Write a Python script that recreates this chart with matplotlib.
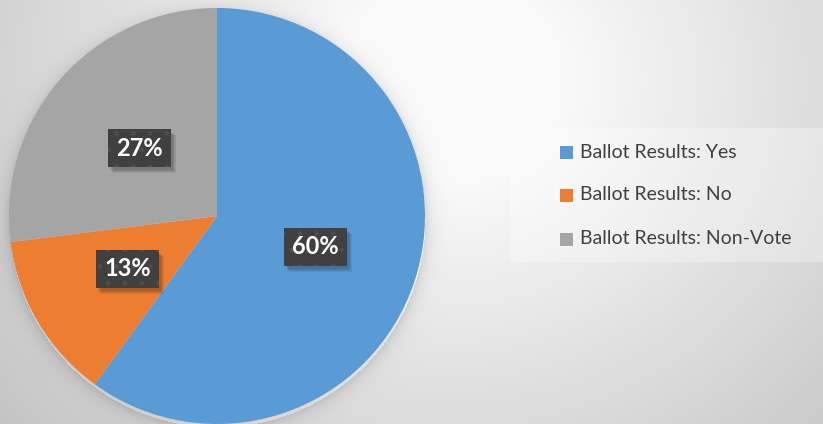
import matplotlib.pyplot as plt
from matplotlib.patches import Rectangle
import numpy as np

# data
categories = ['Ballot Results: Yes', 'Ballot Results: No', 'Ballot Results: Non-Vote']
shares = [60, 13, 27]
colors = ['#5B9BD5', '#ED7D31', '#A5A5A5']
label_pos = [(315.5, 247), (128, 269), (139.5, 148)]  # pixel centres (from top)

W, H = 823, 424
cx, cy, r = 217, 216, 208

fig = plt.figure(figsize=(W / 100, H / 100), dpi=100)
ax = fig.add_axes([0, 0, 1, 1])

# background: radial grey gradient + soft shadow under the pie
yy, xx = np.mgrid[0:H, 0:W]
d = np.hypot(xx - 450, (yy - 80) * 1.1)
bg = np.clip(262 - 0.112 * d, 195, 250)
dc = np.hypot(xx - cx, yy - (cy + 3)) - r
shadow = np.where(dc > 0, 28 * np.exp(-dc / 7.0), 0)
bg = np.clip(bg - shadow, 0, 255) / 255.0
ax.imshow(np.dstack([bg, bg, bg]), extent=(0, W, 0, H), origin='upper',
          interpolation='bilinear', zorder=0)

ax.pie(shares, colors=colors, startangle=90, counterclock=False,
       center=(cx, H - cy), radius=r, frame=True,
       wedgeprops=dict(linewidth=0))
ax.set_xlim(0, W)
ax.set_ylim(0, H)
ax.set_aspect('equal')
ax.axis('off')

# data labels in dark boxes
bw, bh = 63, 38
for (lx, ly), v in zip(label_pos, shares):
    for k in range(4):  # soft shadow
        ax.add_patch(Rectangle((lx - bw / 2 + 2 + k, H - ly - bh / 2 - 3 - k), bw, bh,
                               facecolor='black', alpha=0.07, linewidth=0, zorder=4))
    ax.add_patch(Rectangle((lx - bw / 2, H - ly - bh / 2), bw, bh,
                           facecolor='#404040', edgecolor='#4e4e4e', hatch='.',
                           linewidth=0, zorder=5))
    ax.text(lx, H - ly, f'{v}%', ha='center', va='center',
            fontsize=17, fontweight='bold', family='Lato', color='white', zorder=6)

# legend
ax.add_patch(Rectangle((510, H - 262), W - 510, 134, facecolor='white',
                       alpha=0.3, linewidth=0, zorder=2))
rows = [152, 195, 239]
for name, c, ry in zip(categories, colors, rows):
    ax.add_patch(Rectangle((560, H - ry - 6.5), 13, 13, facecolor=c,
                           linewidth=0, zorder=3))
    ax.text(580, H - ry, name, ha='left', va='center', fontsize=14,
            family='Lato', color='#404040', zorder=3)

fig.savefig('out.png', dpi=100)
